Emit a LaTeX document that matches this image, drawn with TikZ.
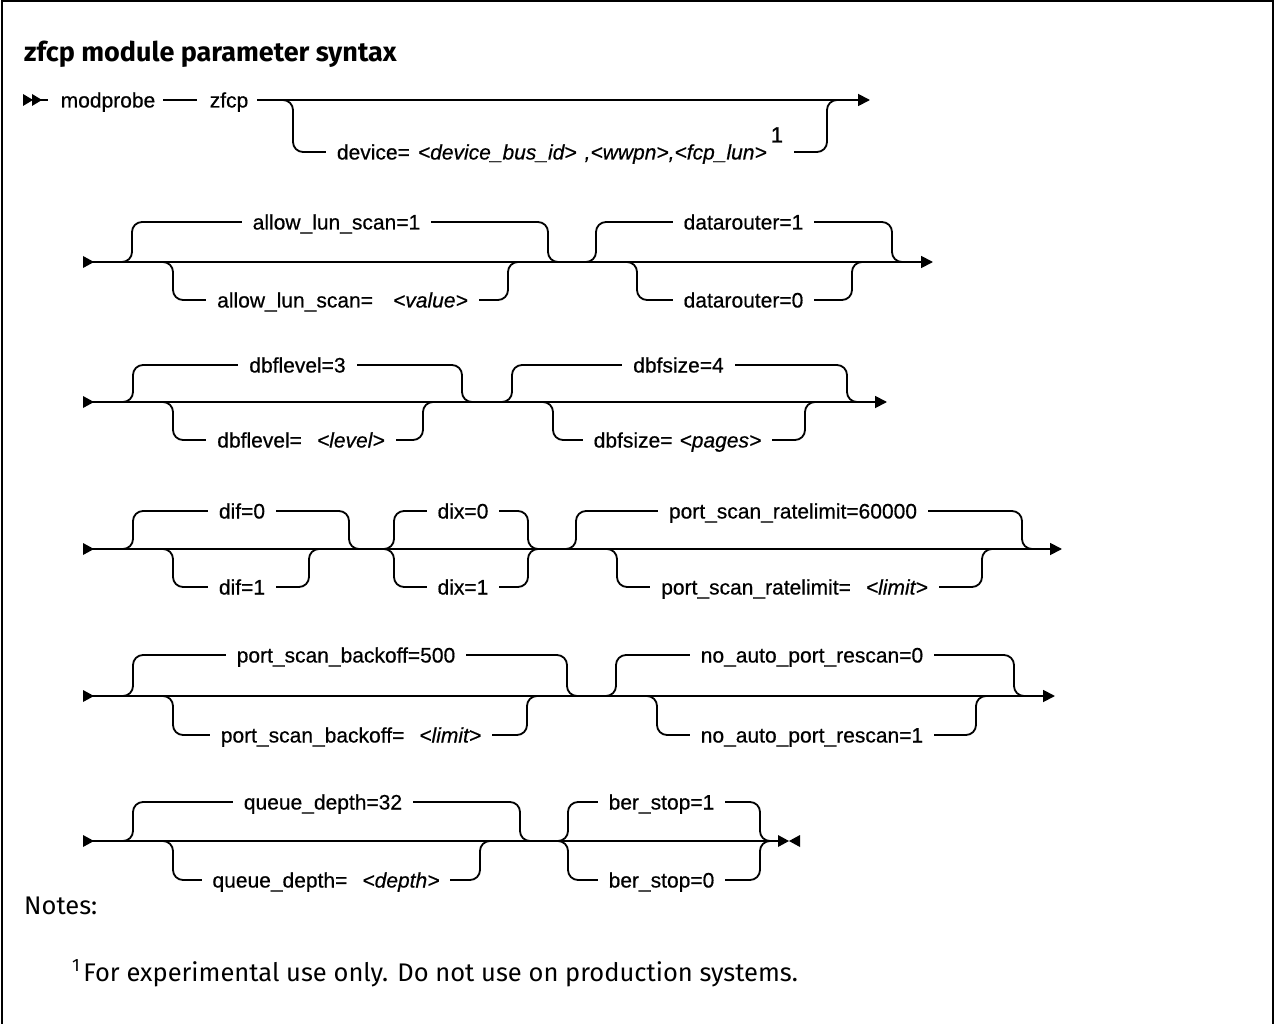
\documentclass[tikz,border=0pt]{standalone}
\usepackage{fontspec}
\setmainfont{Liberation Sans}
\newfontfamily\railfont{Liberation Sans}[FakeBold=0.5]
\newfontfamily\supfont{Liberation Sans}[FakeBold=1.2]
\newfontfamily\notefont{Fira Sans}
\usetikzlibrary{arrows.meta}
\newcommand\br[4]{\draw[rail] ({#3-25},#1) -- (#3,#1) -- (#3,#2) -- (#4,#2) -- (#4,#1) -- ({#4+25},#1);}
\newcommand\lb[4]{\node[lbl] (#1) at (#2,{#3+7.5}) {#4};}
\newcommand\gap{\hspace{15pt}}
\begin{document}
\begin{tikzpicture}[x=1pt,y=-1pt,
  rail/.style={line width=1.8pt, rounded corners=10pt},
  mainrail/.style={line width=1.8pt, -{Triangle[length=12pt,width=12pt]}},
  plainrail/.style={line width=1.8pt},
  lbl/.style={fill=white, inner xsep=11pt, inner ysep=1pt, anchor=base, font=\railfont\fontsize{21}{25}\selectfont},
  txt/.style={inner sep=0pt, anchor=base, font=\railfont\fontsize{21}{25}\selectfont},
]
\useasboundingbox (0,0) rectangle (1274,1024);
% frame
\draw[line width=2pt] (1.5,1024) -- (1.5,1.5) -- (1272.5,1.5) -- (1272.5,1024);
% title
\node[anchor=base west, inner sep=0pt, font=\notefont\bfseries\fontsize{27}{31}\selectfont] (title) at (24,62) {zfcp module parameter syntax};

% ---------- row 1
\fill (23,94) -- (33,100) -- (23,106) -- cycle;
\fill (32,94) -- (42,100) -- (32,106) -- cycle;
\draw[plainrail] (40,100) -- (48,100);
\node[txt] (modprobe) at (108,107.5) {modprobe};
\draw[plainrail] (163,100) -- (197,100);
\node[txt] (zfcp) at (229,107.5) {zfcp};
\draw[mainrail] (257,100) -- (870,100);
\br{100}{152}{293}{827}
\node[lbl] (device) at (560,159.5) {device=\hspace{8pt}\textit{<device\_bus\_id>}\hspace{8pt}\textit{,<wwpn>,<fcp\_lun>}\hspace{4pt}\raisebox{17pt}{\supfont\fontsize{22}{26}\selectfont 1}};

% ---------- row 2
\fill (83,256) -- (94,262) -- (83,268) -- cycle;
\draw[mainrail] (90,262) -- (933,262);
\br{262}{222}{132}{548}
\br{262}{300}{173}{508}
\br{262}{222}{596}{892}
\br{262}{300}{637}{852}
\lb{als1}{336.5}{222}{allow\_lun\_scan=1}
\lb{als2}{342.5}{300}{allow\_lun\_scan=\hspace{20pt}\textit{<value>}}
\lb{dr1}{743.5}{222}{datarouter=1}
\lb{dr0}{743.5}{300}{datarouter=0}

% ---------- row 3
\fill (83,396) -- (94,402) -- (83,408) -- cycle;
\draw[mainrail] (90,402) -- (887,402);
\br{402}{365}{133}{462}
\br{402}{440}{173}{423}
\br{402}{365}{512}{847}
\br{402}{440}{553}{805}
\lb{dbl3}{297.5}{365}{dbflevel=3}
\lb{dbl}{301}{440}{dbflevel=\gap\textit{<level>}}
\lb{dbs4}{678.5}{365}{dbfsize=4}
\lb{dbs}{677.5}{440}{dbfsize=\hspace{7pt}\textit{<pages>}}

% ---------- row 4
\fill (83,543) -- (94,549) -- (83,555) -- cycle;
\draw[mainrail] (90,549) -- (1062,549);
\br{549}{511}{133}{349}
\br{549}{587}{173}{309}
\br{549}{511}{394}{528}
\br{549}{587}{394}{528}
\br{549}{511}{576}{1022}
\br{549}{587}{617}{982}
\lb{dif0}{242}{511}{dif=0}
\lb{dif1}{242}{587}{dif=1}
\lb{dix0}{463}{511}{dix=0}
\lb{dix1}{463}{587}{dix=1}
\lb{psr1}{793}{511}{port\_scan\_ratelimit=60000}
\lb{psr2}{794.5}{587}{port\_scan\_ratelimit=\gap\textit{<limit>}}

% ---------- row 5
\fill (83,690) -- (94,696) -- (83,702) -- cycle;
\draw[mainrail] (90,696) -- (1055,696);
\br{696}{655}{133}{567}
\br{696}{735}{173}{527}
\br{696}{655}{616}{1014}
\br{696}{735}{657}{976}
\lb{psb1}{346}{655}{port\_scan\_backoff=500}
\lb{psb2}{351}{735}{port\_scan\_backoff=\gap\textit{<limit>}}
\lb{nap0}{812}{655}{no\_auto\_port\_rescan=0}
\lb{nap1}{812}{735}{no\_auto\_port\_rescan=1}

% ---------- row 6
\fill (83,835) -- (94,841) -- (83,847) -- cycle;
\draw[plainrail] (90,841) -- (782,841);
\br{841}{802}{133}{520}
\br{841}{880}{173}{480}
\br{841}{802}{568}{760}
\br{841}{880}{568}{760}
\lb{qd1}{323}{802}{queue\_depth=32}
\lb{qd2}{326}{880}{queue\_depth=\gap\textit{<depth>}}
\lb{bs1}{661.5}{802}{ber\_stop=1}
\lb{bs0}{661.5}{880}{ber\_stop=0}
\fill (778,835) -- (789,841) -- (778,847) -- cycle;
\fill (800,835) -- (789,841) -- (800,847) -- cycle;

% ---------- notes
\node[anchor=base west, inner sep=0pt, font=\notefont\fontsize{25.5}{30}\selectfont] (notes) at (24,914) {Notes:};
\node[anchor=base west, inner sep=0pt, font=\notefont\fontsize{25.5}{30}\selectfont] (fn) at (72,981) {\textsuperscript{1}\hspace{3pt}For experimental use only. Do not use on production systems.};
\end{tikzpicture}
\end{document}
